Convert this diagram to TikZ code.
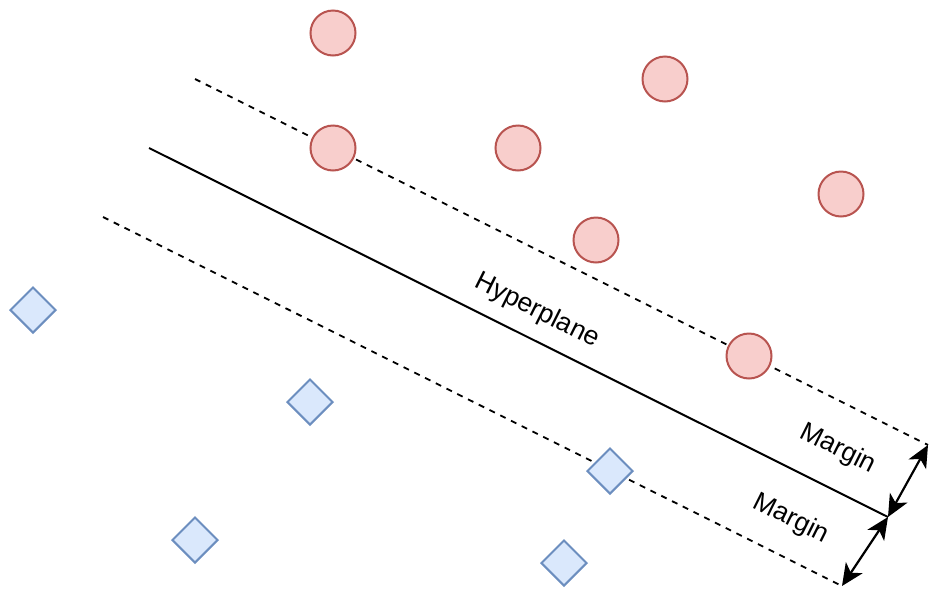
\documentclass[tikz,border=0pt]{standalone}
\usepackage{fontspec}
\setmainfont{Liberation Sans}
\usetikzlibrary{shapes.geometric,arrows.meta}

\begin{document}
\begin{tikzpicture}[x=1pt,y=-1pt,
  redpt/.style={circle,draw={rgb,255:red,184;green,84;blue,80},fill={rgb,255:red,248;green,206;blue,204},line width=2pt,minimum size=45pt,inner sep=0pt},
  bluept/.style={diamond,draw={rgb,255:red,108;green,142;blue,191},fill={rgb,255:red,218;green,232;blue,252},line width=2pt,minimum size=46pt,inner sep=0pt},
  bound/.style={line width=1.8pt,dash pattern=on 6pt off 6pt},
  lbl/.style={font=\fontsize{26.5}{30}\selectfont,rotate=-26.57,inner sep=0pt},
  gap/.style={line width=2.2pt,
    {Stealth[length=22pt,width=20pt,inset=6pt]}-{Stealth[length=22pt,width=20pt,inset=6pt]}}]
\useasboundingbox (0,0) rectangle (930,590);
% separating lines
\coordinate (hs) at (149,148);
\coordinate (he) at (888,517);
\coordinate (us) at (195,79);
\coordinate (ue) at (928,445);
\coordinate (ls) at (103,217);
\coordinate (le) at (842,586);
\draw [line width=2pt] (hs) -- (he);
\draw [bound] (us) -- (ue);
\draw [bound] (ls) -- (le);
% class 1
\node [redpt] (p1) at (333,33) {};
\node [redpt] (p2) at (665,79) {};
\node [redpt] (p3) at (333,148) {};
\node [redpt] (p4) at (518,148) {};
\node [redpt] (p5) at (841,194) {};
\node [redpt] (p6) at (596,240) {};
\node [redpt] (p7) at (749,356) {};
% class 2
\node [bluept] (n1) at (33,310) {};
\node [bluept] (n2) at (310,402) {};
\node [bluept] (n3) at (610,471) {};
\node [bluept] (n4) at (195,540) {};
\node [bluept] (n5) at (564,563) {};
% margins
\draw [gap] (he) -- (ue);
\draw [gap] (he) -- (le);
\node [lbl] (hyp) at (537,311) {Hyperplane};
\node [lbl] (mu) at (838,449) {Margin};
\node [lbl] (ml) at (791,519) {Margin};
\end{tikzpicture}
\end{document}
